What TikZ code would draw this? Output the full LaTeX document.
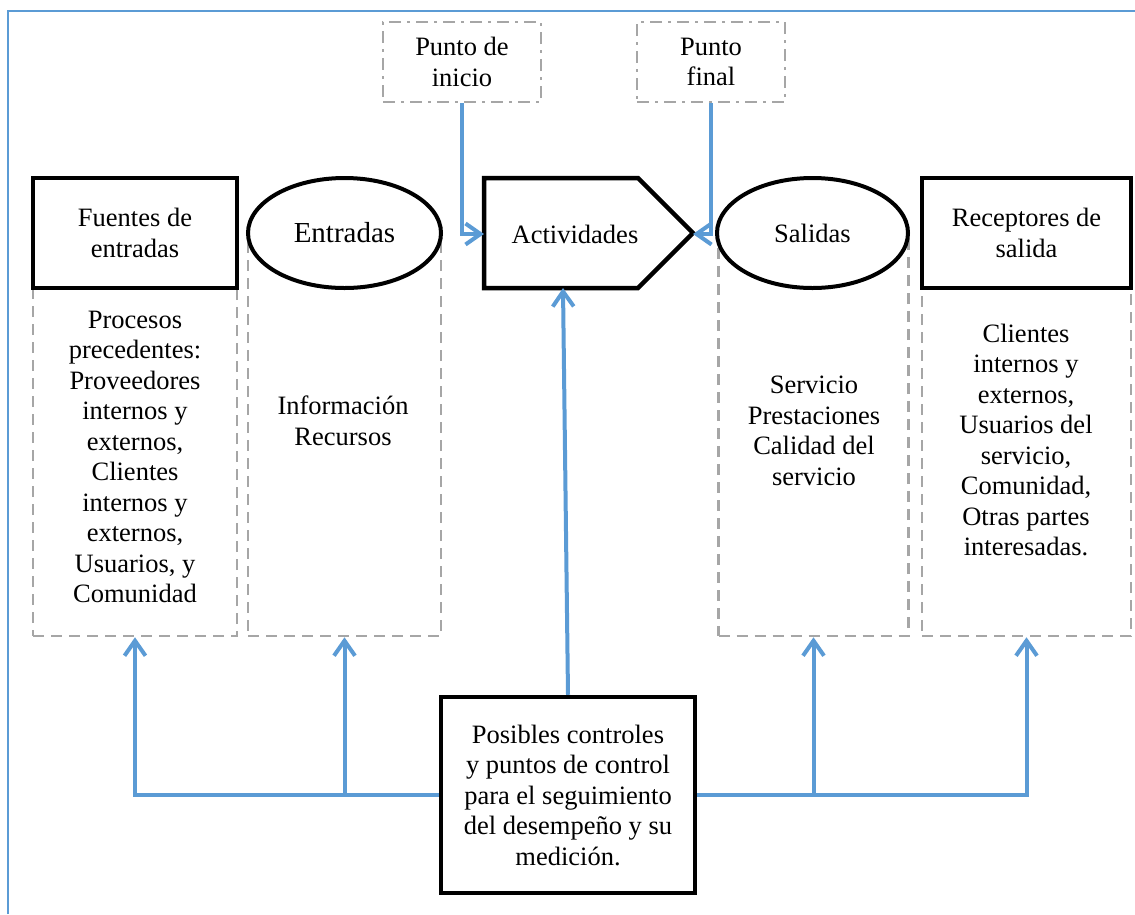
\documentclass[tikz,border=0pt]{standalone}
\usepackage{fontspec}
\setmainfont{Liberation Serif}
\usetikzlibrary{arrows.meta,shapes.geometric}
\definecolor{flow}{HTML}{5B9BD5}
\definecolor{guide}{HTML}{A6A6A6}

\begin{document}
\begin{tikzpicture}[x=1pt,y=-1pt,
  txt/.style={align=center, font=\fontsize{26.5}{30.5}\selectfont, inner sep=0pt},
  solidbox/.style={txt, draw=black, line width=4.5pt, fill=white,
    minimum width=204pt, minimum height=110pt},
  oval/.style={txt, ellipse, draw=black, line width=4pt, fill=white,
    minimum width=193pt, minimum height=110pt},
  zone/.style={draw=guide, line width=2.5pt, dash pattern=on 11pt off 7pt, inner sep=0pt},
  endpoint/.style={txt, draw=guide, line width=2.5pt,
    dash pattern=on 12pt off 6pt on 3pt off 6pt, minimum height=80pt},
  link/.style={draw=flow, line width=4pt},
  linkarrow/.style={link, -{Straight Barb[length=15pt,width=21pt]}},
]
\useasboundingbox (0,0) rectangle (1135,914);

% page frame
\draw[flow, line width=2pt] (8,914) -- (8,11) -- (1135,11);

% dashed description columns
\node[zone, minimum width=204pt, minimum height=348pt] (zFuentes) at (135,462) {};
\node[zone, minimum width=193pt, minimum height=400pt] (zEntradas) at (344.5,436) {};
\node[zone, minimum width=190pt, minimum height=400pt] (zSalidas) at (813.5,436) {};
\node[zone, minimum width=209pt, minimum height=348pt] (zReceptores) at (1026.5,462) {};

% column texts
\node[txt] (tFuentes) at (135,457) {Procesos\\precedentes:\\Proveedores\\internos y\\externos,\\Clientes\\internos y\\externos,\\Usuarios, y\\Comunidad};
\node[txt] (tEntradas) at (343,421) {Información\\Recursos};
\node[txt] (tSalidas) at (814,431) {Servicio\\Prestaciones\\Calidad del\\servicio};
\node[txt] (tReceptores) at (1026,440) {Clientes\\internos y\\externos,\\Usuarios del\\servicio,\\Comunidad,\\Otras partes\\interesadas.};

% header shapes
\node[solidbox] (fuentes) at (135,233) {Fuentes de\\entradas};
\node[oval, font=\fontsize{29}{33}\selectfont] (entradas) at (344.5,233) {Entradas};
\draw[black, line width=4.5pt] (484,178) -- (638,178) -- (693,233) -- (638,288) -- (484,288) -- cycle;
\node[txt] (act) at (575,234) {Actividades};
\coordinate (actW) at (484,234);
\coordinate (actE) at (693,234);
\coordinate (actS) at (563,288);
\node[oval, minimum width=191pt] (salidas) at (812.5,233) {Salidas};
\node[solidbox, minimum width=209pt] (receptores) at (1026.5,233) {Receptores de\\salida};

% start and end markers
\node[endpoint, minimum width=158pt] (inicio) at (462,62) {Punto de\\inicio};
\node[endpoint, minimum width=148pt] (final) at (711,62) {Punto\\final};

% control box
\node[solidbox, minimum width=254pt, minimum height=196pt] (control) at (568,795)
  {Posibles controles\\y puntos de control\\para el seguimiento\\del desempeño y su\\medición.};

% connectors
\draw[linkarrow] (inicio.south) |- (actW);
\draw[linkarrow] (final.south) |- (actE);
\draw[linkarrow] (control.north) -- (actS);
\draw[linkarrow] (control.west) -| (zFuentes.south);
\draw[linkarrow] (zEntradas.south |- control.west) -- (zEntradas.south);
\draw[linkarrow] (control.east) -| (zReceptores.south);
\draw[linkarrow] (zSalidas.south |- control.east) -- (zSalidas.south);
\end{tikzpicture}
\end{document}
